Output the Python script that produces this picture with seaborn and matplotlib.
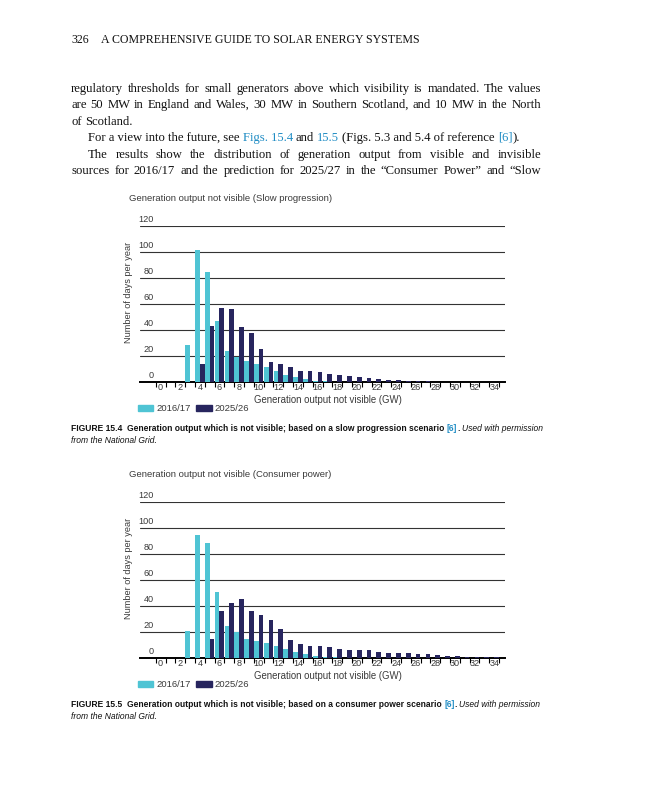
import re
import numpy as np
import pandas as pd
import seaborn as sns
import matplotlib
matplotlib.use("Agg")
import matplotlib.pyplot as plt
import matplotlib.transforms as mtransforms
from matplotlib.patches import Patch
from matplotlib import font_manager

# ---- data ----
gw = list(range(0, 35))
years = ["2016/17", "2025/26"]

slow_2016 = [0, 0, 0, 28, 102, 85, 47, 24, 19, 16, 14, 11, 8.6, 5.4, 3.3, 1.7, 0.8, 0.4,
             0, 0, 0, 0, 0, 0, 0, 0, 0, 0, 0, 0, 0, 0, 0, 0, 0]
slow_2025 = [0, 0, 0, 0, 14, 43, 57, 56, 42.5, 37.5, 25, 15, 13.3, 11, 8.6, 8, 7.2, 5.9,
             5.3, 4.3, 3.3, 2.8, 1.8, 1.1, 1, 0.7, 0.7, 0.7, 0, 0, 0, 0, 0, 0, 0]

cons_2016 = [0, 0, 0, 21, 94.5, 88.5, 50.5, 24.5, 19.5, 14.7, 13.2, 11.6, 9, 7, 4.7, 3.1,
             1.3, 0.8, 0.5, 0, 0, 0, 0, 0, 0, 0, 0, 0, 0, 0, 0, 0, 0, 0, 0]
cons_2025 = [0, 0, 0, 0, 0, 14.7, 36, 42, 45.5, 36, 33, 29, 22.5, 13.9, 10.9, 9.4, 9.1, 8.6,
             6.7, 6, 5.8, 5.8, 4.5, 3.7, 3.7, 3.5, 2.9, 2.7, 2.1, 1.6, 1.1, 0.6, 0.5, 0.5, 0.5]

y_ticks = [0, 20, 40, 60, 80, 100, 120]
x_ticks = list(range(0, 35, 2))

titles = ["Generation output not visible (Slow progression)",
          "Generation output not visible (Consumer power)"]
ylab = "Number of days per year"
xlab = "Generation output not visible (GW)"

header_num = "326"
header_txt = "A COMPREHENSIVE GUIDE TO SOLAR ENERGY SYSTEMS"

CYAN = "#4FC4D4"
NAVY = "#27255E"
LINK = "#1F8CC4"
GREY = "#3a3a3a"
INK = "#111111"

W, H = 647, 800
sns.set_theme(style="white")
fonts = {f.name for f in font_manager.fontManager.ttflist}
SANS = "Liberation Sans"
CAP = "Liberation Sans Narrow" if "Liberation Sans Narrow" in fonts else "Liberation Sans"
SERIF = "Liberation Serif"
plt.rcParams["font.family"] = [SANS, "DejaVu Sans"]

fig = plt.figure(figsize=(W / 100, H / 100), dpi=100)
page = mtransforms.Affine2D().scale(1, -1).translate(0, H)
renderer = fig.canvas.get_renderer()


def text_w(s, **kw):
    t = fig.text(0, 0, s, transform=page, **kw)
    w = t.get_window_extent(renderer).width
    t.remove()
    return w


def space_w(size, family, **kw):
    return text_w("x x", size=size, family=family, **kw) - text_w("xx", size=size, family=family, **kw)


def justify(text, x, y, size, family, width=None, color=INK):
    # place words at their natural positions (prefix widths), spread the slack over the gaps
    words = text.split(" ")
    starts = []
    for i, wd in enumerate(words):
        prefix = " ".join(words[:i + 1])
        starts.append(text_w(prefix, size=size, family=family) - text_w(wd, size=size, family=family))
    total = text_w(text, size=size, family=family)
    extra = (width - total) / (len(words) - 1) if width else 0
    for i, wd in enumerate(words):
        fig.text(x + starts[i] + i * extra, y, wd, transform=page, size=size, family=family,
                 ha="left", va="baseline", color=color)


def runs_line(runs, x, y, size, family):
    # runs drawn whole, one after the other; leading/trailing spaces become gaps
    cx = x
    for txt, props in runs:
        style = {k: v for k, v in props.items() if k != "color"}
        sp = space_w(size, family, **style)
        core = txt.strip(" ")
        lead = len(txt) - len(txt.lstrip(" "))
        trail = len(txt) - len(txt.rstrip(" "))
        cx += lead * sp
        if core:
            fig.text(cx, y, core, transform=page, size=size, family=family,
                     ha="left", va="baseline", **props)
            cx += text_w(core, size=size, family=family, **style)
        cx += trail * sp
    return cx


def runs_width(runs, size, family):
    tot = 0
    for txt, props in runs:
        style = {k: v for k, v in props.items() if k != "color"}
        sp = space_w(size, family, **style)
        core = txt.strip(" ")
        tot += (len(txt) - len(core)) * sp
        if core:
            tot += text_w(core, size=size, family=family, **style)
    return tot


# ---- header and body text ----
plain = {"color": INK}
link = {"color": LINK}
hs = 9.0 * 318 / text_w(header_txt, size=9.0, family=SERIF)
runs_line([(header_num, plain)], 71, 43, hs, SERIF)
runs_line([(header_txt, plain)], 101, 43, hs, SERIF)

body = [
    ("regulatory thresholds for small generators above which visibility is mandated. The values", 71, True),
    ("are 50 MW in England and Wales, 30 MW in Southern Scotland, and 10 MW in the North", 71, True),
    ("of Scotland.", 71, False),
    (None, 88, False),
    ("The results show the distribution of generation output from visible and invisible", 88, True),
    ("sources for 2016/17 and the prediction for 2025/27 in the \u201cConsumer Power\u201d and \u201cSlow", 71, True),
]
line4 = [("For a view into the future, see ", plain), ("Figs. 15.4", link), (" and ", plain),
         ("15.5", link), (" (Figs. 5.3 and 5.4 of reference ", plain), ("[6]", link), (").", plain)]
bs = 9.0 * 455 / text_w(body[1][0], size=9.0, family=SERIF)
for i, (txt, x0, just) in enumerate(body):
    yb = round(91.5 + 16.6 * i)  # whole-pixel baselines keep words level
    if txt is None:
        runs_line(line4, x0, yb, bs, SERIF)
    else:
        justify(txt, x0, yb, bs, SERIF, width=(541 - x0) if just else None)


# ---- charts ----
def draw_chart(top, v16, v25, title):
    bottom = top + 155.4
    ax = fig.add_axes([140 / W, 1 - bottom / H, 365 / W, 155.4 / H])
    df = pd.DataFrame({
        "gw": gw * 2,
        "days": list(v16) + list(v25),
        "year": [years[0]] * len(gw) + [years[1]] * len(gw),
    })
    sns.barplot(data=df, x="gw", y="days", hue="year", hue_order=years,
                palette=[CYAN, NAVY], width=0.96, saturation=1, errorbar=None,
                legend=False, ax=ax, linewidth=0, zorder=3)
    ax.set_xlim(-2.1, 35.1)
    ax.set_ylim(0, 120)
    ax.set_yticks(y_ticks)
    ax.yaxis.grid(True, color="#333333", lw=0.8)
    ax.xaxis.grid(False)
    ax.set_axisbelow(True)
    ax.tick_params(axis="y", length=0, labelleft=False)
    ax.set_xticks(x_ticks, [str(v) for v in x_ticks])
    ax.set_xticks(np.arange(-0.5, 35, 1), minor=True)
    ax.tick_params(axis="x", which="major", length=0, pad=1.2, labelsize=6.6, labelcolor=GREY)
    ax.tick_params(axis="x", which="minor", length=3.5, width=0.8, color="black",
                   direction="out", bottom=True)
    for s in ["left", "right", "top"]:
        ax.spines[s].set_visible(False)
    ax.spines["bottom"].set_color("black")
    ax.spines["bottom"].set_linewidth(1.4)
    ytf = mtransforms.blended_transform_factory(ax.transAxes, ax.transData) + \
        mtransforms.ScaledTranslation(0, 1.5 / 72, fig.dpi_scale_trans)
    for v in y_ticks:
        ax.text(0.038, v, str(v), transform=ytf, ha="right", va="bottom",
                fontsize=6.6, color=GREY)
    ax.set_xlabel("")
    ax.set_ylabel("")
    fig.text(129, top - 28, title, transform=page, fontsize=6.8, color=GREY,
             ha="left", va="center")
    fig.text(128.3, top + 66, ylab, transform=page, fontsize=6.6, color=GREY,
             rotation=90, ha="center", va="center")
    fig.text(328, bottom + 18.5, xlab, transform=page, fontsize=6.9, color=GREY,
             ha="center", va="center")
    handles = [Patch(color=CYAN), Patch(color=NAVY)]
    ax.legend(handles, years, ncol=2, loc="center left",
              bbox_to_anchor=(138 / W, 1 - (bottom + 27) / H), bbox_transform=fig.transFigure,
              frameon=False, fontsize=6.8, labelcolor=GREY, handlelength=1.6, handleheight=0.6,
              handletextpad=0.35, columnspacing=0.6, borderaxespad=0, borderpad=0)
    return ax


draw_chart(226.3, slow_2016, slow_2025, titles[0])
draw_chart(502.3, cons_2016, cons_2025, titles[1])

# ---- captions ----
bold = {"color": INK, "weight": "bold"}
bold_link = {"color": LINK, "weight": "bold"}
ital = {"color": INK, "style": "italic"}

captions = [
    ("FIGURE 15.4", "Generation output which is not visible; based on a slow progression scenario", 431),
    ("FIGURE 15.5", "Generation output which is not visible; based on a consumer power scenario", 707),
]


def caption_runs(label, desc):
    return [(label + "  ", bold), (desc + " ", bold), ("[6]", bold_link), (". ", bold),
            ("Used with permission", ital)]


cs = 9.0 * 470 / runs_width(caption_runs(*captions[0][:2]), 9.0, CAP)
for label, desc, yb in captions:
    runs_line(caption_runs(label, desc), 71, yb, cs, CAP)
    runs_line([("from the National Grid.", ital)], 71, yb + 12, cs, CAP)

fig.savefig("out.png", dpi=100, facecolor="white")
